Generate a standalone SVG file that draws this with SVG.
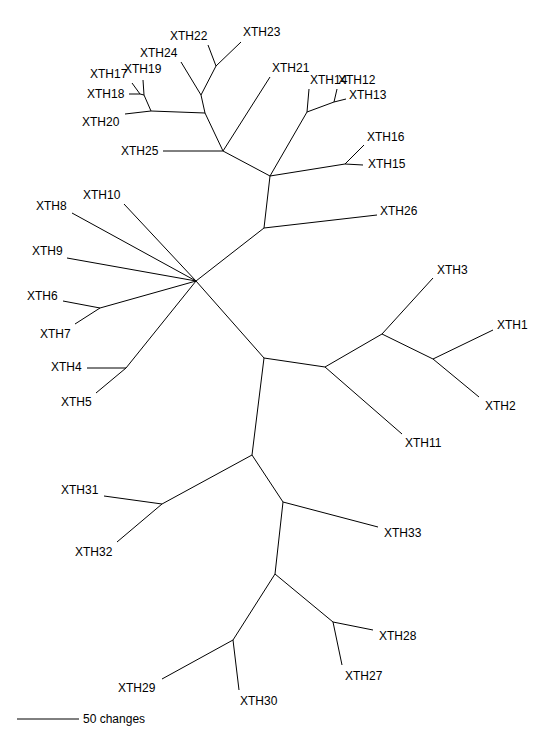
<svg xmlns="http://www.w3.org/2000/svg" width="555" height="731" viewBox="0 0 555 731">
<style>
text{font-family:"Liberation Sans",Arial,sans-serif;font-size:12px;fill:#000}
#connectors line{stroke:#000;stroke-width:1;fill:none}
</style>
<rect width="555" height="731" fill="#fff"/>
<g id="connectors">
<line x1="196" y1="281" x2="264" y2="228"/>
<line x1="264" y1="228" x2="270" y2="176"/>
<line x1="264" y1="228" x2="377" y2="215"/>
<line x1="270" y1="176" x2="223" y2="151"/>
<line x1="270" y1="176" x2="307" y2="112"/>
<line x1="270" y1="176" x2="345" y2="164"/>
<line x1="223" y1="151" x2="205" y2="113"/>
<line x1="223" y1="151" x2="163" y2="151"/>
<line x1="223" y1="151" x2="270" y2="77"/>
<line x1="205" y1="113" x2="201" y2="95"/>
<line x1="205" y1="113" x2="151" y2="111"/>
<line x1="201" y1="95" x2="216" y2="66"/>
<line x1="201" y1="95" x2="181" y2="62"/>
<line x1="216" y1="66" x2="208" y2="45"/>
<line x1="216" y1="66" x2="241" y2="42"/>
<line x1="151" y1="111" x2="125" y2="114"/>
<line x1="151" y1="111" x2="144" y2="95"/>
<line x1="144" y1="95" x2="143" y2="80"/>
<line x1="144" y1="95" x2="140" y2="94"/>
<line x1="140" y1="94" x2="132" y2="83"/>
<line x1="140" y1="94" x2="129" y2="94"/>
<line x1="307" y1="112" x2="309" y2="89"/>
<line x1="307" y1="112" x2="334" y2="102"/>
<line x1="334" y1="102" x2="337" y2="89"/>
<line x1="334" y1="102" x2="346" y2="99"/>
<line x1="345" y1="164" x2="364" y2="145"/>
<line x1="345" y1="164" x2="363" y2="165"/>
<line x1="196" y1="281" x2="124" y2="204"/>
<line x1="196" y1="281" x2="72" y2="213"/>
<line x1="196" y1="281" x2="67" y2="258"/>
<line x1="196" y1="281" x2="100" y2="308"/>
<line x1="196" y1="281" x2="126" y2="368"/>
<line x1="196" y1="281" x2="264" y2="358"/>
<line x1="100" y1="308" x2="63" y2="301"/>
<line x1="100" y1="308" x2="75" y2="324"/>
<line x1="126" y1="368" x2="87" y2="368"/>
<line x1="126" y1="368" x2="96" y2="393"/>
<line x1="264" y1="358" x2="325" y2="367"/>
<line x1="264" y1="358" x2="252" y2="455"/>
<line x1="325" y1="367" x2="382" y2="334"/>
<line x1="325" y1="367" x2="402" y2="434"/>
<line x1="382" y1="334" x2="433" y2="278"/>
<line x1="382" y1="334" x2="433" y2="359"/>
<line x1="433" y1="359" x2="493" y2="330"/>
<line x1="433" y1="359" x2="479" y2="397"/>
<line x1="252" y1="455" x2="162" y2="504"/>
<line x1="252" y1="455" x2="283" y2="502"/>
<line x1="162" y1="504" x2="104" y2="496"/>
<line x1="162" y1="504" x2="117" y2="542"/>
<line x1="283" y1="502" x2="378" y2="527"/>
<line x1="283" y1="502" x2="275" y2="574"/>
<line x1="275" y1="574" x2="333" y2="622"/>
<line x1="275" y1="574" x2="233" y2="640"/>
<line x1="333" y1="622" x2="373" y2="630"/>
<line x1="333" y1="622" x2="342" y2="665"/>
<line x1="233" y1="640" x2="162" y2="679"/>
<line x1="233" y1="640" x2="239" y2="690"/>
</g>
<g id="XTH22"><text x="170" y="40">XTH22</text></g>
<g id="XTH23"><text x="243" y="36">XTH23</text></g>
<g id="XTH24"><text x="140" y="57">XTH24</text></g>
<g id="XTH17"><text x="90" y="78">XTH17</text></g>
<g id="XTH19"><text x="124" y="73">XTH19</text></g>
<g id="XTH18"><text x="87" y="98">XTH18</text></g>
<g id="XTH20"><text x="82" y="126">XTH20</text></g>
<g id="XTH21"><text x="272" y="72">XTH21</text></g>
<g id="XTH14"><text x="310" y="84">XTH14</text></g>
<g id="XTH12"><text x="338" y="84">XTH12</text></g>
<g id="XTH13"><text x="349" y="99">XTH13</text></g>
<g id="XTH25"><text x="121" y="155">XTH25</text></g>
<g id="XTH16"><text x="367" y="141">XTH16</text></g>
<g id="XTH15"><text x="368" y="168">XTH15</text></g>
<g id="XTH26"><text x="380" y="215">XTH26</text></g>
<g id="XTH10"><text x="83" y="199">XTH10</text></g>
<g id="XTH8"><text x="36" y="210">XTH8</text></g>
<g id="XTH9"><text x="32" y="255">XTH9</text></g>
<g id="XTH6"><text x="27" y="300">XTH6</text></g>
<g id="XTH7"><text x="40" y="338">XTH7</text></g>
<g id="XTH4"><text x="51" y="371">XTH4</text></g>
<g id="XTH5"><text x="61" y="406">XTH5</text></g>
<g id="XTH3"><text x="437" y="274">XTH3</text></g>
<g id="XTH1"><text x="497" y="329">XTH1</text></g>
<g id="XTH2"><text x="485" y="410">XTH2</text></g>
<g id="XTH11"><text x="405" y="447">XTH11</text></g>
<g id="XTH31"><text x="61" y="494">XTH31</text></g>
<g id="XTH32"><text x="75" y="556">XTH32</text></g>
<g id="XTH33"><text x="384" y="537">XTH33</text></g>
<g id="XTH28"><text x="379" y="640">XTH28</text></g>
<g id="XTH27"><text x="345" y="680">XTH27</text></g>
<g id="XTH29"><text x="118" y="692">XTH29</text></g>
<g id="XTH30"><text x="240" y="705">XTH30</text></g>
<g id="scale"><line x1="17" y1="719" x2="79" y2="719" stroke="#000" stroke-width="1"/><text x="83" y="723">50 changes</text></g>
</svg>
